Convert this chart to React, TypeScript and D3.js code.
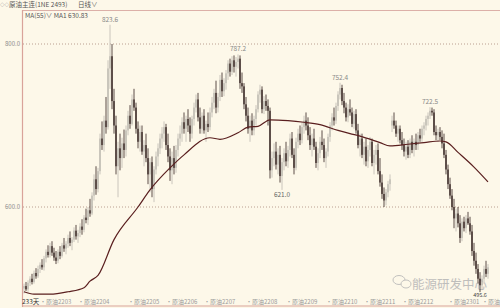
import React from "react";
import * as d3 from "d3";

// Daily candles [open, high, low, close]
const candles: [number, number, number, number][] = [
  [500,506,494,503],[503,508,497,499],[499,510,496,507],[507,515,503,512],[512,518,505,508],
  [508,522,506,519],[519,525,512,515],[515,528,513,524],[524,532,519,529],[529,536,523,526],
  [526,540,522,537],[537,548,532,545],[545,553,538,541],[541,556,538,552],[552,558,540,544],
  [544,550,534,538],[538,546,530,534],[534,548,531,545],[545,552,536,540],[540,556,538,553],
  [553,562,545,549],[549,558,542,555],[555,566,550,562],[562,570,552,556],[556,563,547,560],
  [560,575,557,571],[571,578,560,564],[564,572,556,568],[568,580,563,576],[576,585,566,572],
  [572,590,569,587],[587,598,580,584],[584,600,578,596],[596,610,588,592],[592,618,590,614],
  [614,640,608,634],[634,650,615,622],[622,648,618,644],[644,690,640,684],[684,705,670,676],
  [676,712,668,706],[706,735,690,698],[698,780,695,770],[770,823.6,745,785],[785,800,720,730],
  [730,745,690,700],[700,712,640,650],[650,680,612,672],[672,690,645,660],[660,685,648,678],
  [678,695,660,670],[670,700,662,694],[694,718,688,712],[712,725,696,702],[702,738,700,732],
  [732,745,718,722],[722,728,690,696],[696,705,672,680],[680,700,668,692],[692,700,664,668],
  [668,682,650,676],[676,690,655,660],[660,672,628,640],[640,660,618,655],[655,662,612,622],
  [622,650,606,646],[646,668,640,662],[662,678,650,672],[672,690,665,684],[684,698,672,690],
  [690,705,680,698],[698,702,670,676],[676,690,655,662],[662,672,632,645],[645,668,628,660],
  [660,675,640,648],[648,676,642,670],[670,690,662,684],[684,700,675,690],[690,710,680,704],
  [704,716,690,696],[696,712,680,708],[708,720,692,700],[700,710,680,690],[690,712,684,708],
  [708,728,700,722],[722,738,716,732],[732,740,705,710],[710,722,690,696],[696,716,690,712],
  [712,720,690,694],[694,706,680,702],[702,716,692,698],[698,722,694,716],[716,735,710,728],
  [728,745,720,740],[740,755,715,722],[722,740,716,735],[735,762,730,756],[756,765,735,742],
  [742,758,736,752],[752,768,744,764],[764,780,756,776],[776,782,760,766],[766,785,762,780],
  [780,786,765,772],[772,784,760,778],[778,787.2,770,782],[782,786,745,752],[752,765,740,748],
  [748,752,720,726],[726,735,705,712],[712,722,690,696],[696,712,680,706],[706,715,688,694],
  [694,712,688,708],[708,725,700,720],[720,742,716,738],[738,750,728,744],[744,748,715,720],
  [720,736,714,730],[730,738,718,724],[724,732,700,718],[718,722,635,645],[645,668,636,660],
  [660,678,650,668],[668,680,646,652],[652,672,640,664],[664,675,630,638],[638,660,621,655],
  [655,672,645,666],[666,680,650,656],[656,675,648,670],[670,690,662,684],[684,692,660,664],
  [664,672,640,648],[648,685,645,680],[680,696,672,690],[690,700,676,682],[682,704,678,698],
  [698,712,690,706],[706,716,694,700],[700,710,682,688],[688,698,670,676],[676,690,662,684],
  [684,696,670,674],[674,680,648,654],[654,672,645,666],[666,686,660,680],[680,694,670,676],
  [676,684,655,660],[660,672,648,668],[668,690,662,686],[686,704,680,700],[700,715,694,710],
  [710,722,700,706],[706,728,702,724],[724,742,718,738],[738,752.4,732,746],[746,750,725,730],
  [730,740,715,722],[722,728,705,710],[710,726,704,720],[720,732,712,716],[716,722,698,702],
  [702,718,696,714],[714,720,690,694],[694,702,672,676],[676,690,662,684],[684,690,660,664],
  [664,680,652,674],[674,684,650,656],[656,676,648,670],[670,686,662,680],[680,684,650,654],
  [654,670,640,664],[664,676,652,670],[670,678,640,644],[644,660,625,630],[630,640,610,616],
  [616,624,600,608],[608,622,602,618],[618,632,612,628],[628,640,620,634],[700,712,692,706],
  [706,716,696,700],[700,706,686,690],[690,700,680,696],[696,700,678,682],[682,692,670,676],
  [676,684,662,668],[668,680,658,674],[674,682,660,664],[664,684,660,680],[680,688,666,670],
  [670,684,662,680],[680,690,670,676],[676,692,670,688],[688,696,680,684],[684,700,680,696],
  [696,704,688,700],[700,712,694,708],[708,716,700,712],[712,722.5,708,718],[718,722,712,716],
  [716,720,688,692],[692,700,682,688],[688,696,680,692],[692,698,682,686],[686,694,672,678],
  [678,690,660,664],[664,670,640,646],[646,652,622,628],[628,636,610,614],[614,622,596,600],
  [600,610,574,586],[586,598,570,592],[592,600,575,580],[580,590,556,562],[562,586,558,582],
  [582,588,570,574],[574,590,568,586],[586,594,578,580],[580,588,566,570],[570,578,540,546],
  [546,556,528,534],[534,544,518,524],[524,530,506,512],[512,520,495.6,504],[504,516,498,512],
  [512,528,506,524],[524,534,514,518],[518,530,512,526],
];

// MA(55) at sample days: [dayIndex, value]
const maPoints: [number, number][] = [
  [0,496],[5,493],[13,493],[22,496],[30,501],[33,509],[37,516],[45,560],[57,600],[63,621],
  [73,648],[80,664],[93,685],[98,683],[107,691],[112,698],[117,699],[123,707],[132,706],
  [140,704],[148,701],[157,694],[163,690],[168,687],[178,679],[183,675],[192,677],[200,679],
  [208,681],[211,680],[217,667],[225,649],[232,630.83],
];

const yTicks = [800, 600];
const monthLabels = ["原油2203","原油2204","原油2205","原油2206","原油2207","原油2208","原油2209","原油2210","原油2211","原油2212","原油2301","原油"];
const monthIdx = [8, 27, 52, 71, 90, 111, 131, 151, 170, 189, 212, 229];
const extremeHigh = [43, 107, 158, 203];
const extremeLow = [129, 228];

export default function App() {
  const W = 500, H = 308;
  const x = d3.scaleLinear().domain([0, candles.length - 1]).range([24, 488]);
  const y = d3.scaleLinear().domain([600, 800]).range([207, 44]);
  const bw = 1.3;
  const line = d3.line<[number, number]>().x(d => x(d[0])).y(d => y(d[1])).curve(d3.curveMonotoneX);
  const up = "#bcb8b0";
  const down = "#33221f";
  const font = "'Noto Sans CJK SC', 'Noto Sans', sans-serif";

  return (
    <svg width={W} height={H} style={{ position: "absolute", left: 0, top: 0, display: "block" }} fontFamily={font}>
      <rect x={0} y={0} width={W} height={H} fill="#fdf8e9" />
      {/* header */}
      <text x={0} y={6} fontSize={4.5} fill="#777">◇◇</text>
      <text x={9} y={6.5} fontSize={6.5} fill="#555">原油主连(1NE 2493)</text>
      <text x={78} y={6.5} fontSize={6.5} fill="#555">日线∨</text>
      <line x1={22} x2={W} y1={10.5} y2={10.5} stroke="#dcb0a8" strokeWidth={1} />
      <line x1={22.5} x2={22.5} y1={10} y2={307} stroke="#d9a39a" strokeWidth={1.2} />
      <text x={25} y={17.5} fontSize={6.5} fill="#555">MA(55)∨  MA1 630.83</text>

      {/* grid */}
      {yTicks.map(t => (
        <g key={t}>
          <line x1={23} x2={W} y1={y(t)} y2={y(t)} stroke="#a88878" strokeWidth={0.8} strokeDasharray="1,2" />
          <text x={20} y={y(t) + 2.2} fontSize={6} fill="#8a8a8a" textAnchor="end">{t.toFixed(1)}</text>
        </g>
      ))}

      {/* watermark */}
      <g opacity={0.85}>
        <ellipse cx={399} cy={280} rx={6} ry={4.5} fill="none" stroke="#b8b8b8" strokeWidth={1} />
        <ellipse cx={406} cy={284} rx={5} ry={4} fill="#fdf8e9" stroke="#b8b8b8" strokeWidth={1} />
        <text x={412} y={289} fontSize={12.5} fill="#b5b5b5" fontFamily="'Noto Sans CJK SC', sans-serif">能源研发中心</text>
      </g>

      {/* candles */}
      {candles.map((c, i) => {
        const [o, h, l, cl] = c;
        const isUp = cl >= o;
        const col = isUp ? up : down;
        const cx = x(i);
        const top = y(Math.max(o, cl));
        const bot = y(Math.min(o, cl));
        return (
          <g key={i}>
            <line x1={cx} x2={cx} y1={y(h)} y2={y(l)} stroke={col} strokeWidth={0.8} />
            <rect x={cx - bw / 2} y={top} width={bw} height={Math.max(0.8, bot - top)} fill={col} />
          </g>
        );
      })}

      {/* MA55 */}
      <path d={line(maPoints) || ""} fill="none" stroke="#5a1f1f" strokeWidth={1.2} />

      {/* extreme labels */}
      {extremeHigh.map(i => (
        <text key={"h" + i} x={x(i)} y={y(candles[i][1]) - 3} fontSize={6.5} fill="#888" textAnchor="middle">{candles[i][1].toFixed(1)}</text>
      ))}
      {extremeLow.map(i => (
        <text key={"l" + i} x={x(i)} y={i === 228 ? 296.5 : y(candles[i][2]) + 7} fontSize={i === 228 ? 5.5 : 6.5} fill={i === 228 ? "#444" : "#666"} textAnchor="middle">{candles[i][2].toFixed(1)}</text>
      ))}

      {/* bottom axis */}
      <line x1={22} x2={W} y1={306} y2={306} stroke="#d9a39a" strokeWidth={1.2} />
      {monthLabels.map((m, k) => (
        <text key={m} x={x(monthIdx[k])} y={304} fontSize={6} fill="#9a9a9a">·{m}</text>
      ))}
      <text x={22} y={304} fontSize={6.5} fill="#333">233天</text>
    </svg>
  );
}
